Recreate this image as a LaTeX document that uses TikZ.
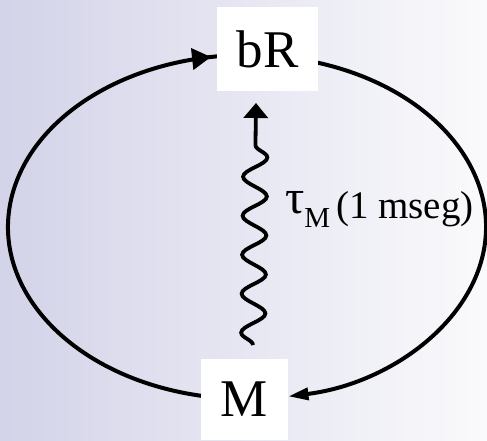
\documentclass[tikz,border=0pt]{standalone}
\usepackage{fontspec}
\setmainfont{Liberation Serif}
\usetikzlibrary{arrows.meta,decorations.pathmorphing,decorations.markings,positioning}
\newcommand{\fsz}[1]{\fontsize{#1}{#1}\selectfont}
\definecolor{bgleft}{RGB}{211,211,233}
\definecolor{bgright}{RGB}{250,250,252}

\begin{document}
\begin{tikzpicture}[
  x=1pt,y=1pt,
  state/.style={fill=white,inner sep=0pt,font=\fsz{53}},
  cyc/.style={line width=4pt},
  toptip/.style={postaction={decorate},
    decoration={markings,mark=at position -11pt with {\arrow{Triangle[length=19pt,width=21pt]}}}},
  wave/.style={line width=3.8pt,decorate,
    decoration={snake,amplitude=12pt,segment length=39pt,post length=29pt}},
  lbl/.style={inner sep=0pt,anchor=base west}
]
% background
\fill[left color=bgleft,right color=bgright] (0,0) rectangle (487,440);
\useasboundingbox (0,0) rectangle (487,440);

% cycle
\coordinate (ctr) at (247,213);
\draw[cyc,toptip] (ctr) ++(259:239 and 172)
  arc[start angle=259,end angle=96,x radius=239,y radius=172];
\draw[cyc,-{Triangle[length=20pt,width=12pt]}] (ctr) ++(75:239 and 172)
  arc[start angle=75,end angle=-80,x radius=239,y radius=172];

% states
\node[state,minimum width=101pt,minimum height=84pt] (bR) at (267.5,391) {bR};
\node[state,minimum width=87pt,minimum height=81pt] (M) at (244.5,40.5) {M};

% relaxation
\coordinate (wtail) at (253,95);
\coordinate (whead) at (256,337);
\draw[wave,-{Triangle[length=15pt,width=24pt]}] (wtail) -- (whead);
\node[lbl] (tau) at (285,227) {{\fsz{48}τ}\raisebox{-14pt}{\fsz{29}M}\hspace{6pt}\raisebox{-5pt}{\fsz{39}(1 mseg)}};
\end{tikzpicture}
\end{document}
